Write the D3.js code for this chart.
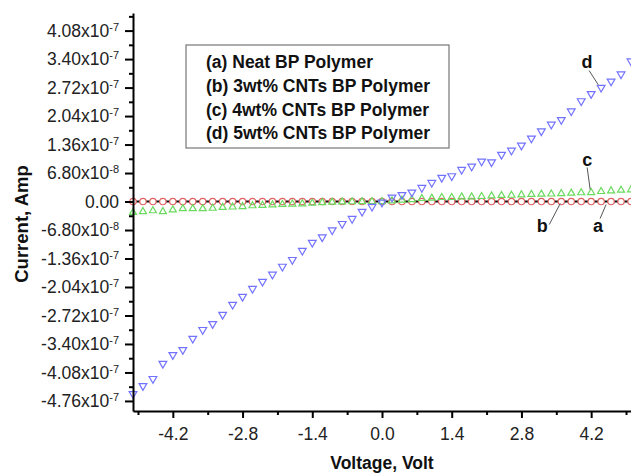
<!DOCTYPE html>
<html>
<head>
<meta charset="utf-8">
<script src="https://cdn.jsdelivr.net/npm/d3@7"></script>
<style>
  body { margin: 0; background: #fff; }
  svg { display: block; font-family: "Liberation Sans", Arial, sans-serif; }
</style>
</head>
<body>
<div id="chart"></div>
<script>
// Voltage sweep (V)
const voltage = [-5.0, -4.8, -4.6, -4.4, -4.2, -4.0, -3.8, -3.6, -3.4, -3.2,
  -3.0, -2.8, -2.6, -2.4, -2.2, -2.0, -1.8, -1.6, -1.4, -1.2,
  -1.0, -0.8, -0.6, -0.4, -0.2, 0.0, 0.2, 0.4, 0.6, 0.8,
  1.0, 1.2, 1.4, 1.6, 1.8, 2.0, 2.2, 2.4, 2.6, 2.8,
  3.0, 3.2, 3.4, 3.6, 3.8, 4.0, 4.2, 4.4, 4.6, 4.8, 5.0];

// Current (A) for each sample
const currentA = [0, 0, 0, 0, 0, 0, 0, 0, 0, 0,
  0, 0, 0, 0, 0, 0, 0, 0, 0, 0,
  0, 0, 0, 0, 0, 0, 0, 0, 0, 0,
  0, 0, 0, 0, 0, 0, 0, 0, 0, 0,
  0, 0, 0, 0, 0, 0, 0, 0, 0, 0, 0];
const currentB = [0, 0, 0, 0, 0, 0, 0, 0, 0, 0,
  0, 0, 0, 0, 0, 0, 0, 0, 0, 0,
  0, 0, 0, 0, 0, 0, 0, 0, 0, 0,
  0, 0, 0, 0, 0, 0, 0, 0, 0, 0,
  0, 0, 0, 0, 0, 0, 0, 0, 0, 0, 0];
const currentC = [-2.6e-8, -2.4e-8, -2.2e-8, -2.4e-8, -2.0e-8, -1.7e-8, -1.7e-8, -1.7e-8, -1.6e-8, -1.4e-8,
  -1.3e-8, -1.2e-8, -1.0e-8, -0.9e-8, -0.8e-8, -0.7e-8, -0.6e-8, -0.55e-8, -0.4e-8, -0.25e-8,
  -0.15e-8, -0.1e-8, -0.05e-8, -0.02e-8, 0, 0, 0.16e-8, 0.32e-8, 0.48e-8, 0.72e-8,
  0.8e-8, 0.96e-8, 0.96e-8, 1.1e-8, 1.1e-8, 1.2e-8, 1.35e-8, 1.45e-8, 1.5e-8, 1.6e-8,
  1.7e-8, 1.75e-8, 1.8e-8, 1.9e-8, 2.0e-8, 2.1e-8, 2.15e-8, 2.4e-8, 2.55e-8, 2.7e-8, 2.8e-8];
const currentD = [-45.9e-8, -44.0e-8, -42.3e-8, -38.7e-8, -36.6e-8, -35.4e-8, -32.7e-8, -30.6e-8, -29.2e-8, -27.0e-8,
  -24.6e-8, -22.7e-8, -20.8e-8, -19.1e-8, -17.4e-8, -15.5e-8, -13.9e-8, -11.7e-8, -9.8e-8, -8.5e-8,
  -6.8e-8, -5.3e-8, -4.1e-8, -2.4e-8, -1.2e-8, -0.2e-8, 1.0e-8, 1.6e-8, 2.2e-8, 3.3e-8,
  4.5e-8, 5.7e-8, 6.1e-8, 7.6e-8, 8.4e-8, 9.6e-8, 9.4e-8, 11.2e-8, 12.2e-8, 13.4e-8,
  15.1e-8, 16.8e-8, 18.4e-8, 19.5e-8, 21.6e-8, 24.0e-8, 25.7e-8, 27.2e-8, 28.7e-8, 30.4e-8, 33.5e-8];

const legendLabels = ['(a) Neat BP Polymer', '(b) 3wt% CNTs BP Polymer',
  '(c) 4wt% CNTs BP Polymer', '(d) 5wt% CNTs BP Polymer'];

const xTicks = [-4.2, -2.8, -1.4, 0.0, 1.4, 2.8, 4.2];
const xMinorTicks = [-4.9, -3.5, -2.1, -0.7, 0.7, 2.1, 3.5, 4.9];
const yTicks = [-4.76e-7, -4.08e-7, -3.40e-7, -2.72e-7, -2.04e-7, -1.36e-7, -6.80e-8,
  0, 6.80e-8, 1.36e-7, 2.04e-7, 2.72e-7, 3.40e-7, 4.08e-7];
const yMinorTicks = [-4.42e-7, -3.74e-7, -3.06e-7, -2.38e-7, -1.70e-7, -1.02e-7, -3.40e-8,
  3.40e-8, 1.02e-7, 1.70e-7, 2.38e-7, 3.06e-7, 3.74e-7, 4.42e-7];

const W = 631, H = 474;
const svg = d3.select('#chart').append('svg')
  .attr('width', W)
  .attr('height', H);

const x = d3.scaleLinear().domain([-5, 5]).range([133, 631]);
const y = d3.scaleLinear().domain([-5.0e-7, 4.5e-7]).range([411, 13]);

// minor ticks first (under the main axes)
svg.append('g')
  .attr('transform', 'translate(0,411)')
  .call(d3.axisBottom(x).tickValues(xMinorTicks).tickSize(4).tickFormat(''))
  .call(g => g.select('.domain').remove())
  .selectAll('line').attr('stroke-width', 2);

svg.append('g')
  .attr('transform', 'translate(133,0)')
  .call(d3.axisLeft(y).tickValues(yMinorTicks).tickSize(4).tickFormat(''))
  .call(g => g.select('.domain').remove())
  .selectAll('line').attr('stroke-width', 2);

// Series a: black line on zero
const pts = arr => voltage.map((v, i) => ({ v: v, c: arr[i] }));
const line = d3.line().x(d => x(d.v)).y(d => y(d.c));

svg.append('path')
  .datum(pts(currentA))
  .attr('fill', 'none')
  .attr('stroke', '#111')
  .attr('stroke-width', 2)
  .attr('d', line);

// Series b: red open circles
svg.append('g').selectAll('circle')
  .data(pts(currentB))
  .join('circle')
  .attr('cx', d => x(d.v))
  .attr('cy', d => y(d.c))
  .attr('r', 3.2)
  .attr('fill', '#fff')
  .attr('stroke', '#e06262')
  .attr('stroke-width', 1.2);

// Series c: green open up triangles
svg.append('g').selectAll('path')
  .data(pts(currentC))
  .join('path')
  .attr('d', d3.symbol(d3.symbolTriangle, 21))
  .attr('transform', d => `translate(${x(d.v)},${y(d.c)})`)
  .attr('fill', 'none')
  .attr('stroke', '#6ada5e')
  .attr('stroke-width', 1.2);

// Series d: blue open down triangles
svg.append('g').selectAll('path')
  .data(pts(currentD))
  .join('path')
  .attr('d', d3.symbol(d3.symbolTriangle, 26))
  .attr('transform', d => `translate(${x(d.v)},${y(d.c)}) rotate(180)`)
  .attr('fill', 'none')
  .attr('stroke', '#7272ff')
  .attr('stroke-width', 1.2);

// Main axes
const xAxis = svg.append('g')
  .attr('transform', 'translate(0,411)')
  .call(d3.axisBottom(x).tickValues(xTicks).tickSize(7).tickSizeOuter(0).tickPadding(10)
    .tickFormat(d => d.toFixed(1)));
xAxis.select('.domain').attr('stroke-width', 2);
xAxis.selectAll('line').attr('stroke-width', 2);
xAxis.selectAll('text').attr('font-size', '17.5px').attr('fill', '#222');

const yAxis = svg.append('g')
  .attr('transform', 'translate(133,0)')
  .call(d3.axisLeft(y).tickValues(yTicks).tickSize(8).tickSizeOuter(0).tickPadding(6));
yAxis.select('.domain').attr('stroke-width', 2);
yAxis.selectAll('line').attr('stroke-width', 2);
yAxis.selectAll('.tick text')
  .attr('font-size', '17.5px')
  .attr('fill', '#222')
  .each(function (d) {
    const t = d3.select(this).text(null);
    if (d === 0) { t.text('0.00'); return; }
    const e = Math.floor(Math.log10(Math.abs(d)) + 1e-9);
    const m = d / Math.pow(10, e);
    t.append('tspan').text(m.toFixed(2) + 'x10');
    t.append('tspan').attr('dy', '-0.55em').attr('font-size', '11px').text(e);
  });

// Axis titles
svg.append('text')
  .attr('x', 382)
  .attr('y', 469)
  .attr('text-anchor', 'middle')
  .attr('font-size', '17.5px')
  .attr('font-weight', 'bold')
  .attr('fill', '#111')
  .text('Voltage, Volt');

svg.append('text')
  .attr('transform', 'translate(28,224) rotate(-90)')
  .attr('text-anchor', 'middle')
  .attr('font-size', '18.5px')
  .attr('font-weight', 'bold')
  .attr('fill', '#111')
  .text('Current, Amp');

// Legend box
const legend = svg.append('g').attr('transform', 'translate(186,45)');
legend.append('rect')
  .attr('width', 263)
  .attr('height', 103)
  .attr('fill', '#fff')
  .attr('stroke', '#777')
  .attr('stroke-width', 1.2);
legend.selectAll('text')
  .data(legendLabels)
  .join('text')
  .attr('x', 20)
  .attr('y', (d, i) => 23.3 + i * 23.7)
  .attr('font-size', '17.5px')
  .attr('font-weight', 'bold')
  .attr('fill', '#111')
  .text(d => d);

// Curve labels with leader lines
const notes = [
  { label: 'a', series: currentA, v: 4.5, p1: [0, 3], p2: [-6, 17], t: [-8, 30] },
  { label: 'b', series: currentB, v: 3.6, p1: [-1, 2], p2: [-12, 23], t: [-19, 30] },
  { label: 'c', series: currentC, v: 4.2, p1: [-1, -3], p2: [-4, -25], t: [-4, -27] },
  { label: 'd', series: currentD, v: 4.4, p1: [-3, -3], p2: [-12, -17], t: [-14, -19.5] }
];
notes.forEach(n => {
  const i = voltage.findIndex(v => Math.abs(v - n.v) < 1e-6);
  const val = i >= 0 ? n.series[i] : 0;
  const ax = x(n.v), ay = y(val);
  svg.append('line')
    .attr('x1', ax + n.p1[0]).attr('y1', ay + n.p1[1])
    .attr('x2', ax + n.p2[0]).attr('y2', ay + n.p2[1])
    .attr('stroke', '#555')
    .attr('stroke-width', 1);
  svg.append('text')
    .attr('x', ax + n.t[0])
    .attr('y', ay + n.t[1])
    .attr('text-anchor', 'middle')
    .attr('font-size', '18px')
    .attr('font-weight', 'bold')
    .attr('fill', '#111')
    .text(n.label);
});
</script>
</body>
</html>
